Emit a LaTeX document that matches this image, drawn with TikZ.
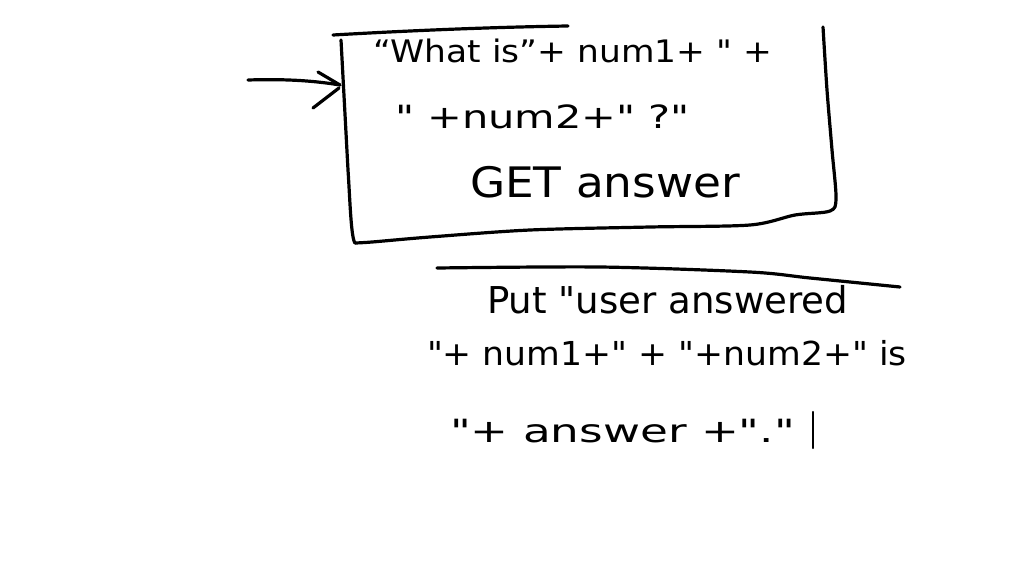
\documentclass[tikz,border=0pt]{standalone}
\usepackage{fontspec}
\setmainfont{DejaVu Sans}
\usepackage{graphicx}
\newcommand{\hwfit}[2]{\resizebox{#1}{\height}{#2}}
\newcommand{\dq}{\textquotedbl}
\begin{document}
\begin{tikzpicture}[x=1pt,y=-1pt,
  pen/.style={line width=3.2pt,line cap=round,line join=round,black},
  thinpen/.style={line width=2.4pt,line cap=round,black},
  hw/.style={anchor=base west,inner sep=0pt,outer sep=0pt}]
\useasboundingbox (0,0) rectangle (1024,576);
\fill[white] (0,0) rectangle (1024,576);

% box outline (hand drawn)
\coordinate (boxtl) at (333,35);
\coordinate (boxtopend) at (568,26);
\coordinate (boxtr) at (823,27);
\coordinate (boxin) at (340,85);
\draw[pen] (boxtl) .. controls (420,30) and (500,27) .. (boxtopend);
\draw[pen] plot[smooth,tension=0.5] coordinates {(823,27) (827,90) (832,150) (836,198) (830,211) (795,215) (750,225) (650,227) (530,230) (430,237) (372,242) (355,243)};
\draw[pen] (355,243) .. controls (351,238) and (350,200) .. (348,170) -- (341,40);

% incoming arrow
\coordinate (arrstart) at (248,80);
\draw[pen] (arrstart) .. controls (280,79) and (310,80) .. (boxin);
\draw[pen] (318,72) -- (boxin);
\draw[pen] (313,108) -- (339,88);

% box text
\node[hw,font=\fontsize{31}{33}\selectfont] (b1) at (373,62) {\hwfit{399pt}{“What is”+ num1+ \dq{} +}};
\node[hw,font=\fontsize{32}{34}\selectfont] (b2) at (395,128) {\hwfit{295pt}{\dq{} +num2+\dq{} ?\dq}};
\node[hw,font=\fontsize{42}{44}\selectfont] (b3) at (470,197) {\hwfit{270pt}{GET answer}};

% separator line
\coordinate (sepL) at (437,268);
\coordinate (sepR) at (900,287);
\draw[pen] plot[smooth,tension=0.5] coordinates {(sepL) (600,267) (750,272) (810,278) (sepR)};

% output text
\node[hw,font=\fontsize{37}{40}\selectfont] (o1) at (487,313) {\hwfit{361pt}{Put \dq{}user answered}};
\node[hw,font=\fontsize{33}{36}\selectfont] (o2) at (427,365) {\hwfit{480pt}{\dq{}+ num1+\dq{} + \dq{}+num2+\dq{} is}};
\node[hw,font=\fontsize{32}{34}\selectfont] (o3) at (450,442) {\hwfit{345pt}{\dq{}+ answer +\dq{}.\dq}};
\coordinate (barT) at (813,412);
\coordinate (barB) at (813,448);
\draw[thinpen] (barT) -- (barB);
\end{tikzpicture}
\end{document}
